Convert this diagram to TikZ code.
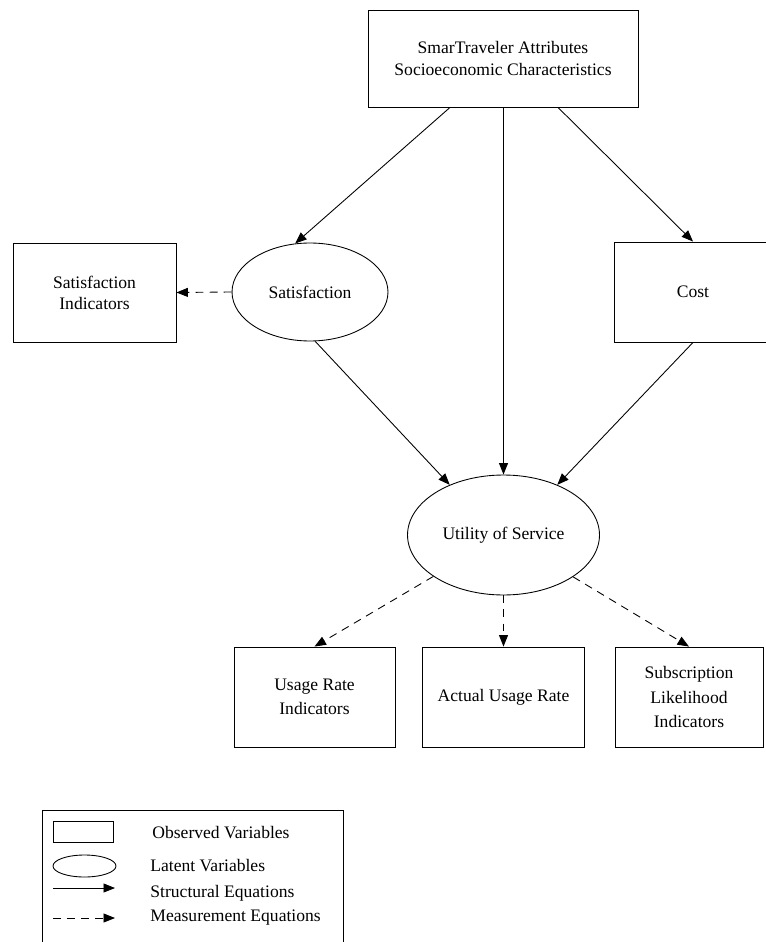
\documentclass[tikz,border=0pt]{standalone}
\usepackage{fontspec}
\setmainfont{Liberation Serif}
\usetikzlibrary{arrows.meta,shapes.geometric}

\begin{document}
\begin{tikzpicture}[x=0.02cm,y=-0.02cm,line width=0.5pt]
\tikzstyle{obs}=[rectangle,draw,align=center,inner sep=0pt,minimum height=2cm]
\tikzstyle{lat}=[ellipse,draw,inner sep=0pt]
\tikzstyle{struct}=[-{Triangle[length=0.23cm,width=0.18cm]}]
\tikzstyle{meas}=[struct,dash pattern=on 4.5pt off 3.5pt]
\clip (0,0) rectangle (766,942);
% model
\node[obs,minimum width=5.4cm,minimum height=1.94cm] (attr) at (503,58.5)
    {SmarTraveler Attributes\\Socioeconomic Characteristics};
\node[obs,minimum width=3.26cm,minimum height=1.98cm] (satind) at (94.5,292.5)
    {Satisfaction\\Indicators};
\node[lat,minimum width=3.12cm,minimum height=1.96cm] (sat) at (310,292) {Satisfaction};
\node[obs,minimum width=3.16cm] (cost) at (693,292) {Cost};
\node[lat,minimum width=3.84cm,minimum height=2.4cm] (util) at (503.5,535) {Utility of Service};
\node[obs,minimum width=3.22cm] (usage) at (314.5,697) {Usage Rate\\[2pt]Indicators};
\node[obs,minimum width=3.24cm] (actual) at (503.5,697) {Actual Usage Rate};
\node[obs,minimum width=2.96cm] (subs) at (689,697)
    {Subscription\\[2pt]Likelihood\\[2pt]Indicators};
\draw[struct] ([xshift=-1.06cm]attr.south) -- (sat.107);
\draw[struct] ([xshift=0.01cm]attr.south) -- (util.north);
\draw[struct] ([xshift=1.1cm]attr.south) -- (cost.north);
\draw[struct] (sat.276) -- (util.137);
\draw[struct] (cost.south) -- (util.43);
\draw[meas] (sat.west) -- (satind.east);
\draw[meas] (util) -- (usage.north);
\draw[meas] (util) -- (actual.north);
\draw[meas] (util) -- (subs.north);
% legend
\draw (42,942) -- (42,810) -- (343,810) -- (343,942);
\node[obs,minimum width=1.2cm,minimum height=0.42cm] (legobs) at (83,831.5) {};
\node[lat,minimum width=1.26cm,minimum height=0.44cm] (leglat) at (84.5,866) {};
\coordinate (s1) at (53,888);
\coordinate (s2) at (115,888);
\coordinate (m1) at (53,918);
\coordinate (m2) at (115,918);
\draw[struct] (s1) -- (s2);
\draw[meas] (m1) -- (m2);
\node[anchor=west,inner sep=0pt] (obstext) at (152,833) {Observed Variables};
\node[anchor=west,inner sep=0pt] (lattext) at (150,866) {Latent Variables};
\node[anchor=west,inner sep=0pt] (structtext) at (150,893) {Structural Equations};
\node[anchor=west,inner sep=0pt] (meastext) at (150,918) {Measurement Equations};
\end{tikzpicture}
\end{document}
